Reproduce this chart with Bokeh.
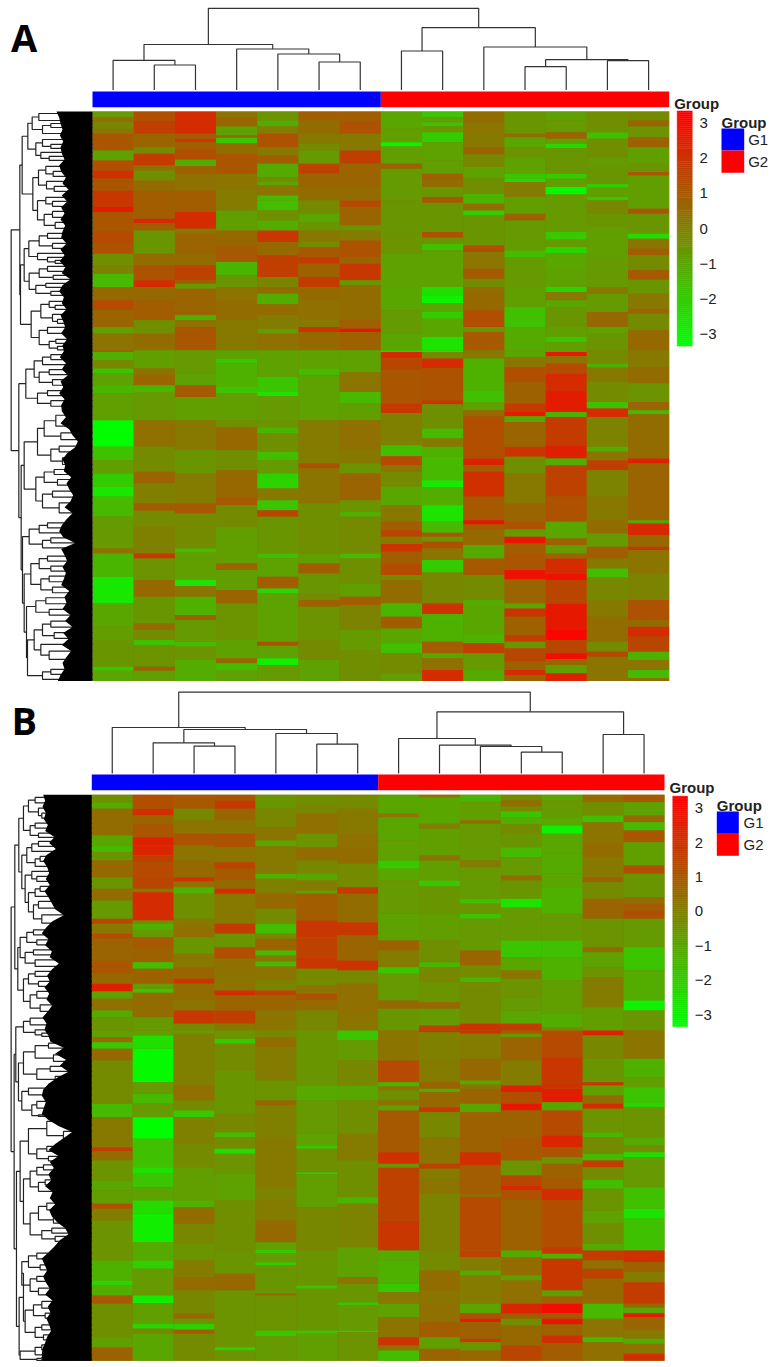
from bokeh.models import Range1d, LinearColorMapper, ColumnDataSource
from bokeh.plotting import figure
from bokeh.transform import transform
from bokeh.core.properties import value
from bokeh.embed import file_html
from bokeh.resources import INLINE

# ---------- data: expression by column, as runs of (row mark where the run ends, z-score)
A_TOP = [
 [(350,-.7),(365,.4),(385,-.2),(400,.3),(450,1.1),(480,-.9),(510,1.3),(535,2.1),(570,1.1),(620,1.9),(635,2.6),(690,1.1),(730,1.4),(760,1.2),(795,-.4),(820,-.1),(860,-1.5),(900,.6),(930,1.4),(980,.7),(1000,-.8),(1050,.3)],
 [(360,1.3),(400,1.7),(440,.7),(460,-.3),(495,1.8),(510,.4),(540,-.4),(570,.5),(655,.9),(668,2.3),(690,.9),(760,-.6),(795,.5),(840,1.2),(860,2.2),(900,.6),(960,.9),(1000,-.4),(1050,.5)],
 [(400,2.2),(415,1),(425,2),(445,.9),(478,1.3),(497,-1.2),(520,.8),(570,.4),(635,.9),(685,2.2),(700,.3),(760,.7),(795,.5),(840,1.6),(850,.9),(865,-.7),(945,.7),(960,-1.3),(980,.4),(1050,1.1)],
 [(350,.3),(378,.7),(405,-.9),(412,.8),(428,-1.9),(460,.5),(520,1.1),(570,.3),(630,.1),(690,-.8),(735,.6),(785,1),(825,-1.4),(860,-.6),(900,.3),(960,.5),(1050,.2)],
 [(360,-.5),(378,-1.2),(400,.1),(440,1.2),(465,.2),(490,.9),(530,-1.1),(545,-.3),(555,-1),(585,.3),(600,-1.5),(630,-1.6),(660,-.4),(690,-1.2),(725,1.9),(765,.6),(830,1.7),(860,-.1),(880,.5),(912,-1.2),(945,.5),(985,.1),(1000,-.7),(1050,.4)],
 [(360,.9),(400,.5),(430,.2),(450,-.3),(490,-.7),(520,1.6),(560,.7),(600,.5),(640,-.3),(665,-1),(690,-.6),(725,.2),(740,-.3),(770,1),(790,1.8),(830,.8),(860,1.8),(900,.6),(960,.4),(980,.2),(995,2),(1050,.6)],
 [(360,.9),(400,1.2),(450,.2),(490,1.7),(560,.7),(600,.5),(620,1.4),(675,.7),(690,-.6),(720,.1),(770,1.2),(790,.7),(840,1.9),(855,-.6),(900,.5),(960,.5),(985,.9),(995,2.8),(1050,.8)],
 [(385,-1),(425,-.8),(438,-3),(490,-.8),(505,.8),(600,-.7),(700,-.6),(760,-.5),(860,-.9),(930,-1),(1000,-.7),(1050,-1)],
 [(350,-1.8),(365,-.8),(378,-1.7),(395,-.5),(425,-2),(480,-.9),(520,-.8),(540,.8),(560,.5),(590,-.6),(607,1.1),(695,-.6),(712,1.2),(730,-.5),(750,-1.7),(860,-.9),(885,-2.5),(908,-3),(935,-1),(955,-2),(1010,-1),(1050,-2.6)],
 [(365,.5),(400,.3),(440,.2),(462,.7),(500,-.2),(535,-.9),(580,-.4),(610,-1.4),(630,.5),(645,-2),(735,-.6),(755,1.3),(770,.2),(805,.3),(835,1),(860,-.3),(880,.5),(930,.6),(980,1.3),(995,-.5),(1050,1)],
 [(400,-.6),(410,.5),(440,-1),(470,-.5),(520,-.9),(535,-1.9),(545,-2.3),(590,.1),(640,-.8),(660,.8),(750,-.7),(770,-1.6),(860,-.7),(920,-.8),(980,-1.7),(1050,-1.1)],
 [(360,-.9),(395,-.7),(415,.7),(430,-.8),(443,-2.3),(520,-.6),(535,-2),(560,-.8),(582,-3.2),(695,-.7),(718,-1.9),(740,-.7),(758,-2.2),(800,-1),(860,-.9),(875,-2.2),(900,.2),(920,-1),(980,-.6),(1010,-.8),(1025,-1.8),(1050,-.8)],
 [(395,-.4),(415,-1.6),(470,-.4),(500,-.7),(550,-.6),(562,-2),(590,-.8),(600,-1.9),(640,-.2),(680,-.6),(770,-.8),(860,-.7),(880,.2),(935,-.7),(980,.6),(1000,-.9),(1050,-.5)],
 [(360,-.3),(378,.7),(410,-.5),(440,.8),(490,-.8),(515,-.6),(525,1.1),(625,-.8),(640,1.1),(700,-.6),(715,-2.5),(745,.3),(765,.9),(810,-.3),(838,1),(880,-.6),(925,.2),(940,.7),(990,-.3),(1050,.6)],
]
A_BOT = [
 [(35,.8),(60,-1.3),(85,-.2),(100,-1.8),(135,-.9),(160,-1.4),(240,-.8),(320,-3.3),(360,-1.7),(400,-.8),(440,-2),(470,-2.7),(530,-1.5),(625,-.7),(640,.4),(710,-1.4),(790,-2.7),(860,-1),(900,-.8),(980,-.6),(992,-1.9),(1023,-1)],
 [(85,-.8),(105,.4),(135,.7),(155,-1.4),(240,-.7),(320,.4),(395,-.3),(430,.7),(490,0),(512,.9),(560,-.3),(640,0),(655,1.9),(720,-.5),(770,.6),(850,-.6),(870,.5),(900,-.3),(915,-1.7),(980,-.5),(992,.8),(1023,-.8)],
 [(100,-.7),(135,-.9),(170,1),(240,-.8),(330,.2),(400,-.6),(490,.1),(520,1),(625,-.3),(638,-1.6),(720,-.8),(738,-2.6),(770,.3),(825,-1.3),(840,.8),(905,-.7),(920,-1.5),(960,-.5),(1023,-1.2)],
 [(55,-.9),(70,-1.8),(140,-1.3),(160,-1.8),(240,-.8),(260,-.4),(330,.6),(390,-.4),(470,.6),(495,1),(560,-.3),(670,-.8),(690,.7),(750,-.8),(790,.7),(900,-.5),(955,-.9),(970,.6),(990,-1.6),(1023,-.9)],
 [(110,-.9),(155,-1.8),(168,-2.6),(240,-.7),(262,-.6),(278,-1.4),(335,-.4),(360,-1.6),(400,-.7),(445,-2.2),(480,.2),(510,-1.8),(530,1.5),(640,-.6),(655,-1.6),(710,-.9),(745,.9),(760,-2.2),(905,-.9),(917,1.2),(955,-.9),(975,-2.9),(1023,-.7)],
 [(85,-.9),(105,-1.5),(240,-.9),(370,.1),(385,1.2),(490,.3),(640,-.4),(670,-.8),(700,.9),(760,-.6),(780,-.3),(800,.8),(900,-.5),(960,-.3),(1023,-.9)],
 [(95,-.9),(110,.2),(155,.3),(190,-1.5),(240,-.8),(330,.4),(370,.2),(400,-.5),(480,.7),(515,-.5),(530,-1.3),(640,-.3),(655,-1.5),(730,-.4),(770,-.8),(795,.9),(870,-.1),(930,-.7),(1023,-.4)],
 [(35,-2.2),(55,2.3),(90,1.5),(190,1.1),(218,1.9),(315,0),(348,-1.6),(375,1.4),(395,.3),(440,-.3),(495,-1),(545,.2),(570,.9),(590,1.6),(612,.2),(635,2),(670,.9),(705,1.4),(720,-.3),(790,.5),(830,-1.4),(865,.9),(910,-1),(940,-1.7),(1000,-.3),(1023,-.8)],
 [(35,-2.8),(55,-.3),(85,2.2),(180,1.2),(192,2),(265,-.4),(295,-1.5),(320,.2),(348,-1.3),(420,-1.5),(442,-2.8),(495,-1.2),(545,-2.6),(578,-1.5),(590,1.1),(605,-.5),(625,1.3),(660,.3),(697,-2),(790,-.2),(822,2),(905,-1.3),(940,.9),(955,-1),(990,.4),(1023,2.2)],
 [(55,.2),(150,-1.3),(185,-1.7),(210,-.9),(228,.6),(355,1.3),(375,2.5),(395,.9),(470,2.1),(540,1),(553,2.9),(570,1),(615,.6),(655,-1.1),(705,1),(780,-.3),(800,-1.2),(880,-1),(910,-1.3),(940,1.7),(990,-.7),(1023,-1.1)],
 [(50,-1),(80,.3),(125,1.3),(190,.8),(215,1.8),(228,2.7),(245,-1),(320,.7),(350,2),(400,-.4),(490,.2),(545,.7),(568,1.2),(590,-.7),(610,2.8),(640,.9),(690,1.1),(718,2.9),(790,.7),(805,-1),(830,2),(885,.8),(905,1.7),(925,-.5),(965,1.5),(990,.8),(1005,2.2),(1023,.8)],
 [(35,-1),(48,2.7),(70,.3),(100,1.4),(150,2.2),(215,2.6),(230,-1.3),(315,1.8),(355,2.5),(375,-1.2),(470,1.6),(545,1.2),(595,-1),(615,.8),(640,-.7),(655,.7),(700,2.2),(720,2.9),(790,1.5),(870,2.7),(900,3.2),(940,1.5),(958,3),(975,.7),(1000,-.8),(1023,2.5)],
 [(70,-.3),(82,-1.3),(125,.2),(185,-.3),(205,-1.7),(230,2.2),(320,-.1),(335,-1.2),(360,.3),(390,1.7),(470,-.1),(540,.2),(580,.5),(620,-.7),(655,.9),(685,.2),(712,-1.6),(780,-.2),(830,.2),(905,.5),(935,-.3),(950,1.5),(1023,.3)],
 [(80,.2),(130,.5),(185,-.5),(210,.7),(222,-1.5),(230,.5),(355,.5),(370,2.5),(540,.7),(550,-1),(585,2.3),(620,.6),(630,2),(700,.3),(780,-.1),(840,1.2),(860,.5),(890,2.2),(935,1.5),(960,-1.3),(990,.3),(1015,-1.5),(1023,.5)],
]
B_TOP = [
 [(365,-.4),(385,-1.1),(465,.5),(495,-1),(515,-1.5),(540,-.6),(590,.6),(625,-.6),(660,.5),(715,-.7),(730,1.5),(760,.2),(775,1.4),(840,.7),(880,1.1),(910,.6),(933,2.5),(955,-.9),(990,.4),(1010,-1.1),(1050,-.6)],
 [(385,1.3),(405,2.1),(430,.7),(470,1.1),(495,2.5),(525,2.4),(545,1.7),(590,1.4),(625,1.5),(635,.3),(720,2.2),(730,-.3),(750,-1.3),(770,-.7),(800,1),(845,.8),(865,-1.6),(910,.8),(925,-.7),(937,-1.7),(1010,.5),(1050,-.7)],
 [(385,1),(420,-.2),(460,.3),(495,1.2),(540,.3),(590,.6),(603,2),(620,.4),(640,-1.3),(715,-.4),(735,.2),(770,.4),(820,-.6),(860,.2),(895,.7),(910,2),(960,.5),(990,.3),(1030,1.9),(1050,-.3)],
 [(360,1.1),(385,1.9),(420,.7),(460,.3),(500,1.2),(545,.3),(565,1.6),(600,1),(625,.6),(640,2.3),(730,.2),(760,1.8),(800,-.6),(835,1.3),(880,.4),(930,.3),(945,2.2),(990,.7),(1030,1.7),(1050,.2)],
 [(385,-.6),(440,-.2),(480,.3),(497,-1),(580,.2),(595,-1.3),(640,0),(685,.6),(730,-.3),(760,-1.6),(775,-.2),(810,.7),(825,-1.5),(843,.2),(858,-1.5),(900,.3),(930,-.1),(945,1.6),(990,.7),(1050,.3)],
 [(370,-.4),(400,-.2),(460,.4),(500,-.5),(540,.5),(580,-.2),(600,-1),(630,.1),(640,-.9),(720,.9),(770,1.9),(830,1.6),(865,1.9),(915,-.3),(940,.3),(960,1.2),(990,.5),(1050,-.2)],
 [(385,-.3),(460,.2),(500,.4),(550,.5),(620,-.3),(640,1.8),(725,.5),(765,1.9),(840,.7),(870,2),(910,-.2),(940,.4),(1000,.4),(1050,.3)],
 [(400,-1),(410,.3),(480,-1),(540,-.9),(565,-1.9),(600,-1),(700,-.7),(780,-.9),(810,.8),(860,.1),(880,-1.8),(960,-.7),(985,.6),(1050,-.6)],
 [(350,.3),(430,-1),(445,0),(525,-.8),(540,.3),(600,-.8),(618,-1.9),(700,-.6),(780,-.8),(845,-.4),(860,-1.4),(905,-.2),(965,-.5),(985,.6),(1035,-.7),(1050,1.6)],
 [(365,-1.4),(420,-.8),(430,.5),(540,-.7),(560,.1),(655,-.7),(670,-1.6),(700,-.6),(715,-1.8),(810,-.7),(855,.7),(890,-.3),(905,-1.4),(1030,-.3),(1050,2)],
 [(360,-.3),(378,.5),(392,-.3),(410,-1.7),(432,-1.2),(460,-.3),(500,-.6),(530,-1.5),(585,-.7),(600,.5),(655,-.6),(682,-2.6),(780,-.7),(830,-1.8),(870,-1),(895,.3),(950,-.5),(990,-.7),(1030,-1),(1050,1.8)],
 [(360,-1),(410,-.7),(435,-1),(460,-3),(520,-1),(580,-1.1),(620,-1),(700,-1.3),(780,-.7),(830,-1.7),(900,-1.3),(1000,-.8),(1040,-1.2),(1050,-.4)],
 [(365,.5),(405,-.4),(425,-1.7),(490,.3),(530,.5),(590,.2),(605,.8),(655,-.3),(715,.7),(800,-.5),(815,.5),(860,-.9),(890,-.5),(980,.1),(1050,-.8)],
 [(365,1),(405,-.9),(425,.6),(450,-1.5),(485,1.1),(555,-.8),(580,1.3),(650,-.6),(670,.5),(690,1),(715,1.3),(800,-.7),(870,-1.8),(960,-1.2),(990,-3),(1050,-.6)],
]
B_BOT = [
 [(50,-.8),(65,.5),(85,-1.9),(120,.6),(250,-.3),(290,-1.5),(380,.2),(392,1.7),(420,.5),(480,-.5),(510,-1),(550,-.8),(565,1.3),(600,.1),(720,-.5),(780,-1.3),(795,-2.2),(825,-1.2),(850,1),(950,-.4),(980,-.8),(1021,.8)],
 [(45,-.8),(85,-2.5),(185,-3.2),(220,-.7),(250,-1.5),(290,-.7),(355,-3.3),(440,-1.7),(460,-2.5),(500,-1.8),(540,-.9),(580,-2.4),(665,-2.9),(720,-1.1),(745,-2.1),(825,-.7),(848,-2.8),(910,-.8),(925,-2.2),(940,-.2),(1021,-1)],
 [(40,-.7),(195,0),(240,.4),(270,-.3),(290,-1.9),(370,0),(440,-.3),(540,-.8),(560,-1.3),(610,.5),(670,-.2),(720,-.6),(770,.1),(810,.5),(880,-.2),(895,.6),(910,-.5),(928,-2.1),(940,1),(1021,-.3)],
 [(55,-.5),(70,-1.9),(150,-.3),(280,-.6),(335,-.2),(350,-1.5),(385,-.3),(400,-2.5),(460,-.5),(540,-.9),(690,-.4),(760,-.6),(810,.6),(980,-.5),(990,-2.2),(1021,-.5)],
 [(50,-.2),(80,.5),(180,.1),(240,-.5),(255,.7),(350,0),(500,.2),(540,-.1),(600,.1),(665,.6),(688,-.8),(698,-1.9),(725,-.7),(735,-2),(820,-.6),(825,.6),(930,-.5),(948,-1.8),(1021,-.7)],
 [(195,-.6),(240,-1.1),(340,-.7),(375,-.9),(385,-1.9),(455,-.4),(462,-1.9),(560,-.8),(690,-.2),(795,-.6),(805,-1.8),(930,-.6),(940,-1.8),(1021,-.8)],
 [(60,-1.8),(120,-.7),(195,-.2),(240,-1),(340,-.4),(420,.1),(530,-.4),(550,-1.4),(680,-.1),(770,-.9),(790,.3),(845,-.6),(855,-1.7),(930,-.7),(935,-1.9),(1021,-.5)],
 [(120,.3),(185,1.4),(198,-1.4),(210,.3),(240,-.4),(255,.4),(270,-.9),(395,1),(430,2.1),(442,-.5),(600,1.6),(690,1.9),(720,-1.1),(790,-1.3),(815,-1.9),(850,.2),(890,-.9),(950,.3),(975,2),(990,.4),(1021,-1.6)],
 [(35,2.1),(120,0),(185,.1),(205,.8),(215,-1.1),(260,.6),(275,1.9),(350,-.2),(430,.3),(445,1.6),(475,.1),(520,.3),(690,-.1),(750,-.3),(810,.5),(850,.3),(905,.4),(950,.9),(985,-.8),(1021,.7)],
 [(40,2),(115,.1),(180,.6),(192,-1),(205,.2),(250,.7),(275,-1),(395,.8),(435,2.1),(520,.9),(530,.5),(690,1.4),(710,1.6),(750,.1),(765,-1),(850,.1),(878,-1),(895,1.3),(905,2.5),(955,.8),(965,1.9),(990,-.6),(1021,.6)],
 [(40,1),(50,-.6),(120,.7),(195,.1),(215,2.5),(250,1.3),(270,2.8),(350,.8),(420,1),(465,-.5),(495,1.5),(510,2.3),(540,1.2),(690,.8),(710,-1.1),(765,.5),(780,-.8),(850,.4),(880,2.4),(895,.9),(915,-.4),(975,.6),(1021,1.5)],
 [(110,1.4),(185,1.9),(205,2),(245,2.6),(270,-1),(345,1.4),(380,2.4),(410,1.1),(430,-.5),(470,.8),(505,1),(540,2.2),(680,1.3),(700,1.9),(715,-1.3),(810,1.9),(828,-.8),(850,.9),(878,3),(895,1.1),(912,2.8),(945,.8),(968,2.1),(1021,.9)],
 [(45,2.5),(115,-.2),(185,-.6),(195,2),(225,-.8),(250,.5),(265,2.2),(335,-.5),(350,-1.4),(400,-.3),(420,-1.5),(440,1.8),(478,-.3),(505,-1.6),(570,-.5),(610,-.9),(670,-.4),(690,-1.1),(720,1.8),(745,.4),(775,1.6),(850,.6),(895,-1.5),(950,.3),(965,-1.5),(1021,.4)],
 [(115,.3),(170,-1.3),(200,-.8),(245,-1.8),(260,-2.2),(350,-.5),(375,-1.1),(395,-.4),(410,-2.5),(500,-.7),(565,-1.7),(595,-2.6),(690,-1.7),(725,2.1),(755,.8),(785,.1),(850,1.8),(862,.6),(878,-1),(890,2.7),(930,.7),(955,.2),(970,-1.2),(1000,.3),(1021,2.1)],
]
A_TOP_START, B_TOP_START, BOT_START = 333, 343, 30

# column dendrograms: merges (child, child, height); leaves are 0..13, merge k is node 14+k
A_MERGES = [(1,2,25),(0,14,29.7),(5,6,28),(4,16,36),(3,17,41),(15,18,45.5),(7,8,39),(10,11,23.3),(12,13,29.3),(21,22,30.3),(9,23,43),(20,24,62.3),(19,25,81.7)]
B_MERGES = [(2,3,27.4),(1,14,30.7),(5,6,29.4),(4,16,40),(15,17,44),(0,18,46),(10,11,21.4),(9,20,27),(8,21,28.4),(7,22,35),(12,13,39),(23,24,61.7),(19,25,81.4)]

# row dendrograms: [height, child, child]; an integer child is a row
A_G1 = [194,[181,[161,6,27],[150,[125,36,48],66]],[170,[150,84,[125,99,111]],[155,123,[130,135,147]]]]
A_G2 = [179,[162,[140,165,[118,180,195]],[138,210,[115,225,240]]],[165,[140,258,[120,270,285]],[145,[120,300,318],[112,333,351]]]]
A_G3 = [191,[160,[135,366,381],[120,396,411]],[165,426,[135,438,[112,447,456]]]]
A_G4 = [190,[160,[135,465,480],[118,492,504]],[170,[140,516,528],[125,540,552]]]
A_G5 = [184,[155,[130,570,[112,582,594]],[120,609,[105,624,636]]],[160,[135,648,666],[130,[110,684,696],[105,705,716]]]]
A_L1 = [200,[175,[150,[125,730,745],760],[160,[130,775,790],[120,805,822]]],[165,[135,838,853],[125,868,885]]]
A_L2A = [205,[165,[145,[110,912,945],[95,965,985]],[125,[100,1005,1022],[90,1040,1060]]],[170,[145,[115,1075,1090],[105,1105,1122]],[150,[120,1140,1158],[100,1175,1205]]]]
A_L2B = [210,[190,[160,[135,1235,1250],1265],[150,[125,1280,1295],1310]],[205,[185,[160,[135,1335,1350],[125,1365,1380]],[155,[130,1395,1412],[120,1428,1445]]],[198,[170,[140,1460,1478],[130,1495,1512]],[195,[175,[150,[125,1530,1548],[115,1565,1582]],[155,1600,[130,1620,1645]]],[150,[125,1675,1690],1705]]]]]
A_TREE = [244,[218,[211,A_G1,A_G2],[216,[205,A_G3,A_G4],A_G5]],[221,A_L1,[214,A_L2A,A_L2B]]]

B_X1 = [205,[190,[170,8,24],[160,40,[150,55,70]]],[185,[170,85,100],[160,115,128]]]
B_X2 = [210,[195,[180,[160,140,155],170],[170,[155,185,200],215]],[200,[180,230,[165,245,260]],[190,[170,[155,275,290],305],[175,[160,320,340],[150,360,385]]]]]
B_U2 = [222,[215,[195,[175,405,420],[165,435,450]],[200,[175,465,480],[170,495,515]]],[205,[190,[170,530,545],[160,560,575]],[185,[165,590,610],[155,630,650]]]]
B_L1 = [228,[205,[185,670,690],[170,705,[150,715,725]]],[220,[205,[170,[130,745,760],[115,780,800]],[165,[125,815,830],[110,845,862]]],[210,[190,880,900],[180,[165,920,940],[160,960,965]]]]]
B_C1 = [190,[135,[100,970,990],[85,1010,1035]],[165,[135,1055,1070],[130,1085,1098]]]
B_C2 = [185,[165,[145,1110,1125],1140],[160,[140,1155,1170],1190]]
B_C3 = [185,[160,[135,1225,1245],[115,1265,1285]],[150,[120,1300,1315],[110,1325,1340]]]
B_C4 = [210,[190,[165,1375,1392],[155,1410,1425]],[185,[165,1445,1460],[160,1480,1500]]]
B_C5 = [200,[175,[150,1520,1540],[140,1555,1570]],[170,[150,1590,1605],[145,1620,1635]]]
B_C6 = [215,[170,[150,1650,1665],1680],[165,[150,1688,1694],1697]]
B_TREE = [242,[231,[219,B_X1,B_X2],B_U2],[233,B_L1,[226,[215,B_C1,[205,B_C2,B_C3]],[218,[205,B_C4,B_C5],B_C6]]]]

# outline of the dense leaf block of each row dendrogram, evenly spaced from first row to last
A_MASS = [108,100,96,90,98,88,96,92,84,100,94,80,90,72,92,76,94,84,96,82,90,94,78,96,84,98,82,92,66,90,
          100,86,92,78,96,88,82,94,76,90,86,98,80,92,74,96,88,100,84,94,92,80,96,70,60,44,52,76,90,82,
          86,64,78,70,58,66,84,60,78,92,100,88,52,94,84,76,90,80,86,94,70,84,78,90,66,82,60,88,72,92,
          64,78,90,84,96,104]
B_MASS = [146,140,148,138,144,132,140,112,128,108,136,146,134,128,138,126,142,130,120,110,84,118,136,150,130,140,120,126,99,120,
          134,126,142,128,136,119,132,148,136,142,130,124,84,110,78,96,70,104,130,146,150,138,144,150,130,100,59,84,110,130,
          100,126,114,130,122,140,118,126,110,128,120,104,80,70,96,112,130,150,142,134,146,138,126,140,118,132,124,136,128,122,
          134,140,148,150,148]

GROUPS = ["G1", "G2"]
GROUP_COLORS = ["#0000FF", "#FF0000"]
GROUP_SPAN = [(0, 7), (7, 14)]
COLORBAR_TICKS = [3, 2, 1, 0, -1, -2, -3]
COLORBAR_LABELS = ["3", "2", "1", "0", "\u22121", "\u22122", "\u22123"]
Z_LIMIT = 3.35

# ---------- page
L, R, T, B = 0, 770, 0, 1362
p = figure(width=R - L, height=B - T, x_range=Range1d(L, R), y_range=Range1d(B, T),
           output_backend="svg", toolbar_location=None, min_border=0,
           border_fill_color="white", background_fill_color="white", outline_line_color=None)
p.xaxis.visible = False
p.yaxis.visible = False
p.grid.visible = False

palette = ["#%02x%02x00" % (i, 255 - i) for i in range(256)]
mapper = LinearColorMapper(palette=palette, low=-Z_LIMIT, high=Z_LIMIT)
FONT = value("Liberation Sans")


def linear_range(name, axis, v_a, page_a, v_b, page_b):
    """Extra range mapping value v_a to page position page_a, v_b to page_b."""
    k = (v_b - v_a) / (page_b - page_a)
    lo, hi = (L, R) if axis == "x" else (B, T)
    rng = Range1d(v_a + (lo - page_a) * k, v_a + (hi - page_a) * k)
    (p.extra_x_ranges if axis == "x" else p.extra_y_ranges)[name] = rng
    return name


def runs_to_cells(top, bottom, top_start):
    left, right, b, t, v = [], [], [], [], []
    for c in range(14):
        pos = 0
        for end, val in top[c]:
            row = end - top_start
            left.append(c); right.append(c + 1); t.append(pos); b.append(row); v.append(val)
            pos = row
        off = pos - BOT_START
        for end, val in bottom[c]:
            row = end + off
            left.append(c); right.append(c + 1); t.append(pos); b.append(row); v.append(val)
            pos = row
    return dict(left=left, right=right, bottom=b, top=t, v=v), pos


def row_tree(node, xs, ys):
    if isinstance(node, int):
        return node, 0
    h, a, b = node
    ra, ha = row_tree(a, xs, ys)
    rb, hb = row_tree(b, xs, ys)
    xs.append([ha, h, h, hb]); ys.append([ra, ra, rb, rb])
    return (ra + rb) / 2, h


def col_tree(merges):
    pos = {i: (i + .5, 0) for i in range(14)}
    xs, ys = [], []
    for k, (a, b, h) in enumerate(merges):
        xa, ha = pos[a]; xb, hb = pos[b]
        xs.append([xa, xa, xb, xb]); ys.append([ha, h, h, hb])
        pos[14 + k] = ((xa + xb) / 2, h)
    return xs, ys


def panel(tag, top, bottom, top_start, merges, tree, mass, letter, letter_xy, X0, X1, Y0, Y1,
          bar_y, base, cb_x, y3, ym3, label_x, group_xy, leg_x, leg_y, leg_title_y, leg_label_x):
    cells, nrows = runs_to_cells(top, bottom, top_start)
    xr = linear_range(tag + "col", "x", 0, X0, 14, X1)
    yr = linear_range(tag + "row", "y", 0, Y0, nrows, Y1)
    # heat map
    p.quad(left=[0], right=[14], bottom=[nrows], top=[0], x_range_name=xr, y_range_name=yr,
           fill_color="#807a00", line_color=None)
    p.quad(left="left", right="right", bottom="bottom", top="top", source=ColumnDataSource(cells),
           x_range_name=xr, y_range_name=yr, fill_color=transform("v", mapper), line_color=None)
    # group annotation
    p.quad(left=[s[0] for s in GROUP_SPAN], right=[s[1] for s in GROUP_SPAN],
           top=[bar_y[0]] * 2, bottom=[bar_y[1]] * 2, x_range_name=xr, fill_color=GROUP_COLORS, line_color=None)
    # column dendrogram
    hy = linear_range(tag + "colh", "y", 0, base, 80, base - 80)
    cx, cy = col_tree(merges)
    p.multi_line(cx, cy, x_range_name=xr, y_range_name=hy, line_color="#333333", line_width=1.2)
    # row dendrogram
    hx = linear_range(tag + "rowh", "x", 0, X0, 240, X0 - 80)
    rx, ry = [], []
    row_tree(tree, rx, ry)
    p.multi_line(rx, ry, x_range_name=hx, y_range_name=yr, line_color="#222222", line_width=1.2)
    rows = [i * nrows / (len(mass) - 1) for i in range(len(mass))]
    p.harea(x1=mass, x2=[0] * len(mass), y=rows, x_range_name=hx, y_range_name=yr, fill_color="black")
    # colour key
    cy_r = linear_range(tag + "key", "y", 3, y3, -3, ym3)
    n = 120
    edges = [-Z_LIMIT + 2 * Z_LIMIT * i / n for i in range(n + 1)]
    key = ColumnDataSource(dict(v=[(edges[i] + edges[i + 1]) / 2 for i in range(n)],
                                l=[cb_x[0]] * n, r=[cb_x[1]] * n, b=edges[:-1], t=edges[1:]))
    p.quad(left="l", right="r", bottom="b", top="t", source=key, y_range_name=cy_r,
           fill_color=transform("v", mapper), line_color=transform("v", mapper), line_width=.5)
    p.text(x=[label_x] * 7, y=COLORBAR_TICKS, text=COLORBAR_LABELS, y_range_name=cy_r,
           text_font=FONT, text_font_size=value("15px"), text_baseline="middle", text_align="left", text_color="#222222")
    # titles
    p.text(x=[group_xy[0], leg_x[0]], y=[group_xy[1], leg_title_y], text=["Group", "Group"], text_font=FONT,
           text_font_style="bold", text_font_size=value("15px"), text_baseline="alphabetic", text_color="#222222")
    p.quad(left=[leg_x[0]] * 2, right=[leg_x[1]] * 2, top=leg_y[:2], bottom=leg_y[1:],
           fill_color=GROUP_COLORS, line_color=None)
    p.text(x=[leg_label_x] * 2, y=[(leg_y[0] + leg_y[1]) / 2, (leg_y[1] + leg_y[2]) / 2], text=GROUPS, text_font=FONT,
           text_font_size=value("15px"), text_baseline="middle", text_color="#222222")
    p.text(x=[letter_xy[0]], y=[letter_xy[1]], text=[letter], text_font=value("Open Sans"), text_font_style="bold",
           text_font_size=value("38px"), text_baseline="alphabetic", text_color="black")


panel("a", A_TOP, A_BOT, A_TOP_START, A_MERGES, A_TREE, A_MASS, "A", (10.5, 36), 92, 668.7, 111, 680.5,
      (91, 106.7), 89.5, (676.7, 691.7), 122.7, 333.3, 699, (673.7, 103),
      (721, 743.7), [128, 150, 172.3], 121.7, 747.7)
panel("b", B_TOP, B_BOT, B_TOP_START, B_MERGES, B_TREE, B_MASS, "B", (11, 719), 91.3, 664, 794.3, 1360.3,
      (774, 789.7), 773, (672.3, 687), 807.7, 1014, 694.3, (669, 787),
      (716.3, 738.3), [811, 833.3, 855.3], 805, 743)

open("out.html", "w").write(file_html(p, INLINE))
